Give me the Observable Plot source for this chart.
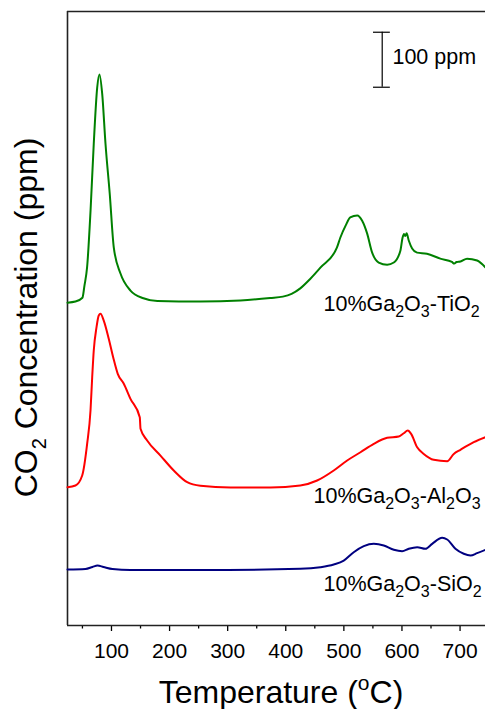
<!DOCTYPE html>
<html>
<head>
<meta charset="utf-8">
<script src="https://cdn.jsdelivr.net/npm/d3@7"></script>
<script src="https://cdn.jsdelivr.net/npm/@observablehq/plot@0.6"></script>
<style>
  html, body { margin: 0; padding: 0; background: #fff; overflow: hidden; }
  svg { display: block; }
</style>
</head>
<body>
<div id="chart"></div>
<script>
// ---------- data ----------
const seriesLabels = ["10%Ga_2O_3-TiO_2", "10%Ga_2O_3-Al_2O_3", "10%Ga_2O_3-SiO_2"];
const seriesColors = ["#008000", "#ff0000", "#000080"];
// vertical stacking offsets (ppm) used in the figure
const stackOffsets = [580, 245, 95];

const tempTiO2 = [24.3, 38, 50, 53.5, 58, 64, 69.5, 75.4, 79.3, 84, 89.7, 97, 104, 115.5, 132.7, 155, 179, 253, 322, 373, 395, 410, 425, 442, 460, 488, 494, 503, 511, 523, 531.5, 540, 548.7, 560, 574.5, 586, 597.4, 601, 603.5, 605.5, 608, 611.7, 617.5, 626, 643, 666, 686, 690, 694, 700.7, 712, 729.4, 743.8];
const ppmTiO2  = [7, 9, 16, 38, 71, 175, 296, 398, 422, 387, 296, 205, 107, 60, 29, 15, 10, 9, 11, 15.5, 18, 23, 33, 50, 71, 107, 125.5, 147, 162, 165.5, 156, 133, 98, 80, 76, 80, 102, 125, 132, 128, 133, 120, 105.5, 98, 96, 87, 81, 78, 81, 82, 87, 83.6, 71];

const tempAl2O3 = [24.3, 38, 49.6, 58.2, 63.9, 66.8, 69.5, 74.2, 78.1, 81.1, 86.7, 95.4, 102.9, 110.8, 121.2, 132.7, 148.7, 150, 161.4, 184.3, 207.2, 230.3, 253, 304.8, 373.7, 425, 454, 482.6, 505.7, 528.6, 551.5, 574.5, 594.5, 603, 610, 615.8, 626.2, 637.5, 654.7, 677.8, 689.2, 700.7, 723.6, 743.8];
const ppmAl2O3  = [6.5, 9.5, 27.7, 86, 146, 206.5, 255, 297, 318.6, 321.7, 309.5, 276, 242.8, 212.6, 194.5, 167, 133.7, 112.6, 91.4, 64, 36.8, 15.5, 9, 6, 6, 9.5, 18.6, 36.8, 55, 70, 85.4, 96.3, 98.6, 104.6, 109.5, 103.5, 79, 67, 56.3, 53.7, 67, 74.5, 88.3, 97.4];

const tempSiO2 = [24.3, 55.2, 67.3, 75.9, 86.2, 101.7, 132.7, 253, 425, 459.6, 482.6, 499.8, 517, 534.3, 551.5, 568.7, 586, 600.3, 611.7, 626.2, 640.4, 652, 669.2, 677.8, 692, 706.4, 717.9, 729.4, 743.8];
const ppmSiO2  = [6.8, 7.7, 11.4, 14, 11.4, 7.7, 5.9, 5.9, 8, 11, 16, 23, 38.3, 49.2, 53.5, 50.5, 42.6, 40, 44.5, 47.4, 44.5, 53.5, 64.5, 61.4, 44.5, 35.4, 32.3, 36.5, 42.6];

const majorTicks = [100, 200, 300, 400, 500, 600, 700];
const minorTicks = [50, 150, 250, 350, 450, 550, 650];
const xDomain = [24.3, 743.8];
const yDomain = [0, 1116.4];

// label anchor points (temperature, stacked ppm)
const labelTemps = [464.9, 447.7, 464.9];
const labelPpm = [571.5, 222.4, 63.6];

// 100 ppm scale bar
const scaleBarTemp = 566;
const scaleBarCapTemps = [551, 580];
const scaleBarPpm = [978.7, 1078.7];
const scaleBarText = "100 ppm";
const scaleBarTextPos = [583.6, 1021.3];

const xTitle = "Temperature (^oC)";
const yTitle = "CO_2 Concentration (ppm)";

// ---------- build ----------
const FONT = '"Liberation Sans", Arial, Helvetica, sans-serif';
const temps = [tempTiO2, tempAl2O3, tempSiO2];
const vals = [ppmTiO2, ppmAl2O3, ppmSiO2];
const lineData = temps.map((ts, i) => ts.map((t, j) => ({T: t, v: vals[i][j] + stackOffsets[i]})));
const labelData = seriesLabels.map((s, i) => ({T: labelTemps[i], v: labelPpm[i], text: s}));

const plot = Plot.plot({
  width: 485,
  height: 709,
  marginTop: 11,
  marginBottom: 84,
  marginLeft: 67,
  marginRight: 0,
  style: {fontFamily: FONT, color: "#000", background: "#fff", overflow: "visible"},
  x: {domain: xDomain, label: null},
  y: {domain: yDomain, axis: null},
  marks: [
    Plot.axisX(majorTicks, {tickSize: 6, tickPadding: 12, fontSize: 21, strokeWidth: 1.3, label: null}),
    Plot.axisX(minorTicks, {tickSize: 3.5, tickFormat: () => "", strokeWidth: 1.3, label: null}),
    Plot.ruleX([xDomain[0]], {stroke: "#222", strokeWidth: 1.6}),
    Plot.ruleY([yDomain[0], yDomain[1]], {stroke: "#222", strokeWidth: 1.6}),
    ...lineData.map((d, i) => Plot.line(d, {x: "T", y: "v", stroke: seriesColors[i], strokeWidth: 2, curve: "monotone-x"})),
    Plot.text(labelData, {x: "T", y: "v", text: "text", textAnchor: "start", lineAnchor: "bottom", fontSize: 21.5, fill: "#000", className: "sublabel"}),
    Plot.ruleX([scaleBarTemp], {y1: scaleBarPpm[0], y2: scaleBarPpm[1], stroke: "#000", strokeWidth: 1.2}),
    Plot.ruleY(scaleBarPpm, {x1: scaleBarCapTemps[0], x2: scaleBarCapTemps[1], stroke: "#000", strokeWidth: 1.2}),
    Plot.text([scaleBarText], {x: scaleBarTextPos[0], y: scaleBarTextPos[1], text: d => d, textAnchor: "start", lineAnchor: "bottom", fontSize: 21.5, fill: "#000"})
  ]
});

document.getElementById("chart").appendChild(plot);

// ---------- rich text (sub/superscripts) ----------
const NS = "http://www.w3.org/2000/svg";
function rich(el, str, subSize, subShift, supSize, supShift) {
  const parts = str.split(/(_\d|\^o)/).filter(s => s.length);
  el.textContent = "";
  let cur = 0;
  for (const p of parts) {
    const ts = document.createElementNS(NS, "tspan");
    let target = 0, text = p, size = null;
    if (p[0] === "_") { target = subShift; text = p.slice(1); size = subSize; }
    else if (p[0] === "^") { target = supShift; text = p.slice(1); size = supSize; }
    if (target - cur !== 0) ts.setAttribute("dy", target - cur);
    cur = target;
    if (size) ts.setAttribute("font-size", size);
    ts.textContent = text;
    el.appendChild(ts);
  }
}

const svg = d3.select(plot);
svg.selectAll(".sublabel text").each(function () { rich(this, this.textContent, 16, 6, 16, -8); });

const xt = svg.append("text")
  .attr("x", 281).attr("y", 703)
  .attr("text-anchor", "middle")
  .attr("font-size", 32)
  .attr("font-family", FONT)
  .attr("fill", "#000");
rich(xt.node(), xTitle, 21, 6, 21, -13);

const yt = svg.append("text")
  .attr("transform", "translate(37,317.5) rotate(-90)")
  .attr("text-anchor", "middle")
  .attr("font-size", 32)
  .attr("font-family", FONT)
  .attr("fill", "#000");
rich(yt.node(), yTitle, 20, 9, 20, -12);
</script>
</body>
</html>
